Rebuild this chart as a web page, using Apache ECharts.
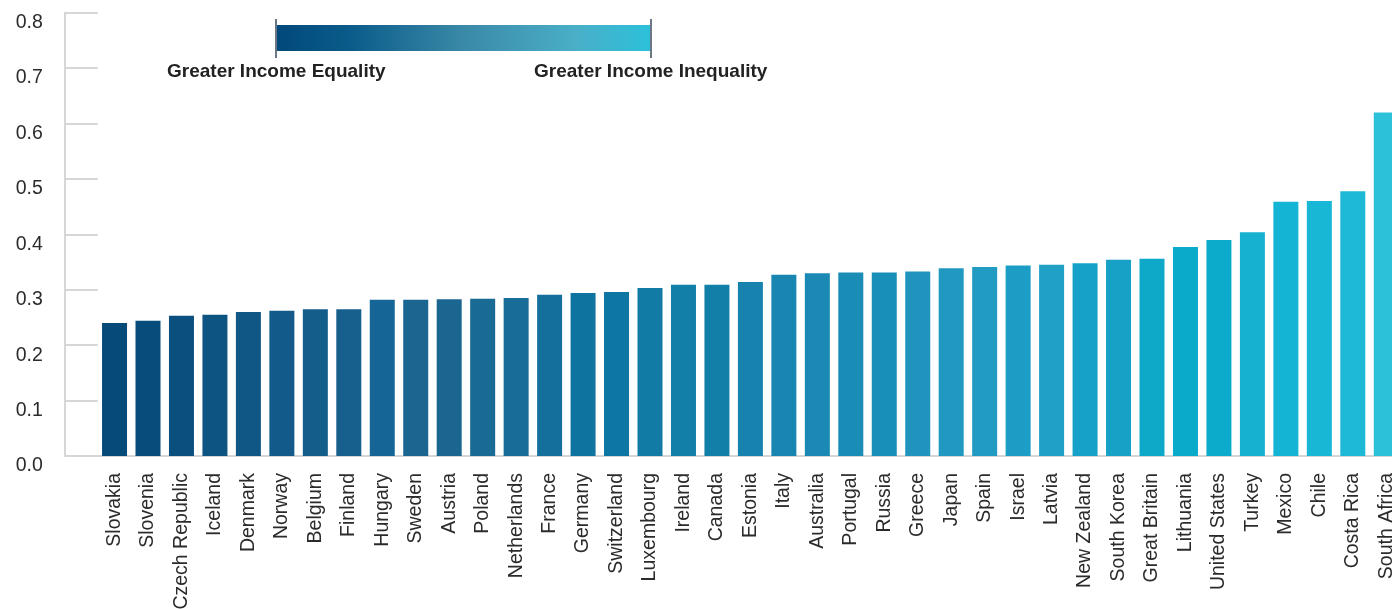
<!DOCTYPE html>
<html>
<head>
<meta charset="utf-8">
<script src="https://cdn.jsdelivr.net/npm/echarts@6/dist/echarts.min.js"></script>
<style>
html,body{margin:0;padding:0;background:#fff;}
#chart{width:1392px;height:609px;}
</style>
</head>
<body>
<div id="chart"></div>
<script>
var categories = ["Slovakia","Slovenia","Czech Republic","Iceland","Denmark","Norway","Belgium","Finland","Hungary","Sweden","Austria","Poland","Netherlands","France","Germany","Switzerland","Luxembourg","Ireland","Canada","Estonia","Italy","Australia","Portugal","Russia","Greece","Japan","Spain","Israel","Latvia","New Zealand","South Korea","Great Britain","Lithuania","United States","Turkey","Mexico","Chile","Costa Rica","South Africa"];
var giniValues = [0.240,0.244,0.253,0.255,0.260,0.262,0.265,0.265,0.282,0.282,0.283,0.284,0.285,0.291,0.294,0.296,0.303,0.309,0.309,0.314,0.327,0.330,0.331,0.331,0.333,0.339,0.341,0.344,0.345,0.348,0.354,0.356,0.377,0.390,0.404,0.459,0.460,0.478,0.620];
var yTicks = [0, 0.8, 0.1];
var legendLabels = ["Greater Income Equality", "Greater Income Inequality"];
var barColors = ["#064a79","#074c7b","#0a4f7e","#0e5483","#105786","#125a89","#135d8b","#17608d","#156696","#1a6690","#1b6690","#196a94","#176c98","#146f9c","#0f73a0","#0d76a2","#117ba6","#127fa9","#127fa9","#1682ad","#1886b0","#1a89b3","#198db6","#188fb8","#2094bc","#2198c0","#229bc2","#1b9dc5","#20a0c4","#16a2c8","#18a1c6","#0ea8c9","#0aaaca","#0cabcb","#16b1d0","#14b5d4","#18b7d5","#1eb9d6","#2ac1d9"];

var FONT = '"Liberation Sans", Arial, Helvetica, sans-serif';
var chart = echarts.init(document.getElementById('chart'), null, {renderer: 'canvas'});
chart.setOption({
  animation: false,
  backgroundColor: '#ffffff',
  grid: {left: 97.8, width: 1305.2, top: 12.7, bottom: 153, outerBoundsMode: 'none', containLabel: false},
  xAxis: {
    type: 'category',
    data: categories,
    axisLine: {show: true, lineStyle: {color: '#d6d6d6', width: 2}},
    axisTick: {show: false},
    axisLabel: {rotate: 90, interval: 0, margin: 17, color: '#2b2b2b', fontSize: 19.5, fontFamily: FONT}
  },
  yAxis: {
    type: 'value',
    min: yTicks[0], max: yTicks[1], interval: yTicks[2],
    offset: 33,
    axisLine: {show: true, lineStyle: {color: '#d6d6d6', width: 2}},
    axisTick: {show: true, inside: true, length: 33, lineStyle: {color: '#d6d6d6', width: 2}},
    splitLine: {show: false},
    axisLabel: {
      margin: 22, color: '#2b2b2b', fontSize: 19.5, fontFamily: FONT,
      formatter: function (v) { return '{a|' + v.toFixed(1) + '}'; },
      rich: {a: {fontSize: 19.5, fontFamily: FONT, color: '#2b2b2b', padding: [20, 0, 0, 0]}}
    }
  },
  series: [{
    type: 'bar',
    data: giniValues.map(function (v, i) { return {value: v, itemStyle: {color: barColors[i]}}; }),
    barWidth: 25
  }],
  graphic: [
    {
      type: 'rect', left: 276, top: 25, shape: {width: 375, height: 26},
      style: {fill: new echarts.graphic.LinearGradient(0, 0, 1, 0, [
        {offset: 0, color: '#00497a'},
        {offset: 0.2, color: '#0b5c8a'},
        {offset: 0.5, color: '#3a89a8'},
        {offset: 0.8, color: '#4aafc8'},
        {offset: 1, color: '#2cc0da'}
      ])}
    },
    {type: 'line', shape: {x1: 276, y1: 19, x2: 276, y2: 58}, style: {stroke: '#6b7785', lineWidth: 2}},
    {type: 'line', shape: {x1: 651, y1: 19, x2: 651, y2: 58}, style: {stroke: '#6b7785', lineWidth: 2}},
    {type: 'text', left: 167, top: 62, style: {text: legendLabels[0], fill: '#222', font: 'bold 19px ' + FONT}},
    {type: 'text', left: 534, top: 62, style: {text: legendLabels[1], fill: '#222', font: 'bold 19px ' + FONT}}
  ]
});
</script>
</body>
</html>
